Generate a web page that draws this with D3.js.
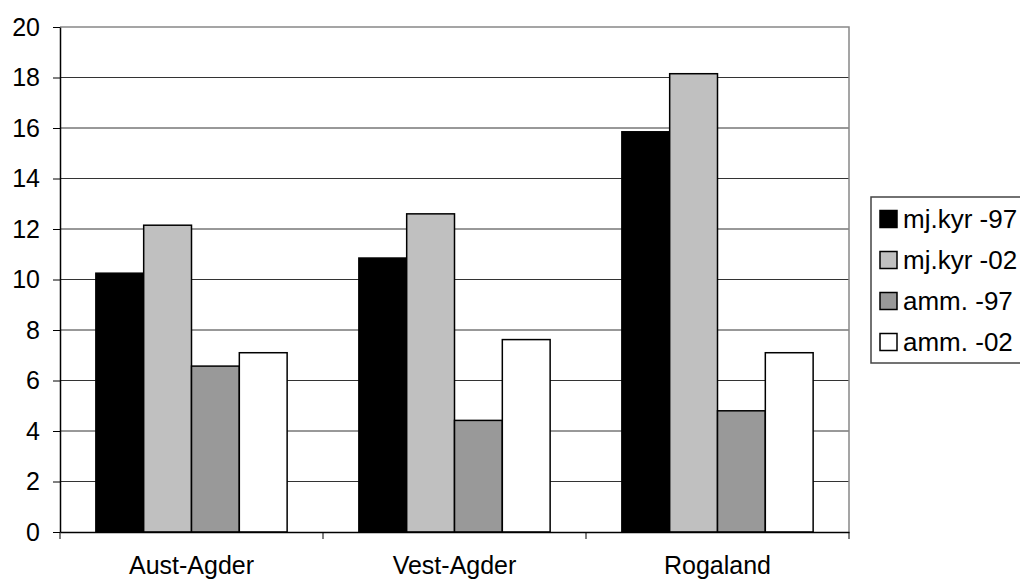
<!DOCTYPE html>
<html>
<head>
<meta charset="utf-8">
<script src="https://cdn.jsdelivr.net/npm/d3@7"></script>
<style>
  body { margin: 0; background: #fff; }
  text { font-family: Arial, "Liberation Sans", sans-serif; }
</style>
</head>
<body>
<div id="viz"></div>
<script>
const categories = ["Aust-Agder", "Vest-Agder", "Rogaland"];
const seriesNames = ["mj.kyr -97", "mj.kyr -02", "amm. -97", "amm. -02"];
const seriesColors = ["#000000", "#c0c0c0", "#999999", "#ffffff"];
const mjkyr97 = [10.25, 10.85, 15.85];
const mjkyr02 = [12.15, 12.6, 18.15];
const amm97 = [6.57, 4.42, 4.8];
const amm02 = [7.1, 7.62, 7.1];
const yTicks = [0, 2, 4, 6, 8, 10, 12, 14, 16, 18, 20];

const seriesValues = [mjkyr97, mjkyr02, amm97, amm02];

const margin = { top: 27, right: 171, bottom: 48, left: 60 };
const width = 1020 - margin.left - margin.right;
const height = 580 - margin.top - margin.bottom;

const svg = d3.select("#viz").append("svg")
  .attr("width", 1020)
  .attr("height", 580)
  .append("g")
  .attr("transform", `translate(${margin.left},${margin.top})`);

const x0 = d3.scaleBand().domain(categories).range([0, width]);
// Excel-style gap width of 150% between groups
const barW = x0.bandwidth() / (seriesNames.length + 1.5);
const x1 = d3.scaleBand().domain(seriesNames).range([0, barW * seriesNames.length]);
const groupOffset = (x0.bandwidth() - barW * seriesNames.length) / 2;

const y = d3.scaleLinear().domain([0, 20]).range([height, 0]);

// gridlines
svg.append("g")
  .selectAll("line")
  .data(yTicks.filter(d => d > 0 && d < 20))
  .enter()
  .append("line")
  .attr("x1", 0)
  .attr("x2", width)
  .attr("y1", d => y(d))
  .attr("y2", d => y(d))
  .attr("stroke", "#333")
  .attr("stroke-width", 1);

// plot border (top + right)
svg.append("path")
  .attr("d", `M0,${y(20)}H${width}V${height}`)
  .attr("fill", "none")
  .attr("stroke", "#888")
  .attr("stroke-width", 1.5);

// bars
const rows = [];
seriesNames.forEach((s, i) => {
  categories.forEach((c, j) => {
    rows.push({ series: s, cat: c, value: seriesValues[i][j], color: seriesColors[i] });
  });
});

svg.selectAll("rect.bar")
  .data(rows)
  .enter()
  .append("rect")
  .attr("class", "bar")
  .attr("x", d => x0(d.cat) + groupOffset + x1(d.series))
  .attr("y", d => y(d.value))
  .attr("width", x1.bandwidth())
  .attr("height", d => height - y(d.value))
  .attr("fill", d => d.color)
  .attr("stroke", "#000")
  .attr("stroke-width", 1.5);

// y axis
const yAxis = svg.append("g")
  .call(d3.axisLeft(y).tickValues(yTicks).tickSize(7).tickPadding(13).tickSizeOuter(0));
yAxis.selectAll("text").style("font-size", "25px").attr("fill", "#000");
yAxis.selectAll("line").attr("stroke", "#000");
yAxis.select(".domain").attr("stroke", "#000").attr("stroke-width", 1.5);

// x axis
const xAxis = svg.append("g")
  .attr("transform", `translate(0,${height})`)
  .call(d3.axisBottom(x0).tickSize(0).tickPadding(24).tickSizeOuter(0));
xAxis.selectAll("text").style("font-size", "25px").attr("fill", "#000");
xAxis.select(".domain").attr("stroke", "#000").attr("stroke-width", 1.5);

const bounds = categories.map(c => x0(c)).concat([width]);
xAxis.selectAll("line.bound")
  .data(bounds)
  .enter()
  .append("line")
  .attr("class", "bound")
  .attr("x1", d => d)
  .attr("x2", d => d)
  .attr("y1", 0)
  .attr("y2", 7)
  .attr("stroke", "#000");

// legend
const legend = d3.select("svg").append("g")
  .attr("transform", "translate(871,197)");

legend.append("rect")
  .attr("x", 0)
  .attr("y", 0)
  .attr("width", 170)
  .attr("height", 166)
  .attr("fill", "#fff")
  .attr("stroke", "#444")
  .attr("stroke-width", 1.5);

const item = legend.selectAll("g.item")
  .data(seriesNames)
  .enter()
  .append("g")
  .attr("class", "item")
  .attr("transform", (d, i) => `translate(9,${22 + i * 41})`);

item.append("rect")
  .attr("x", 0)
  .attr("y", -8.5)
  .attr("width", 17)
  .attr("height", 17)
  .attr("fill", (d, i) => seriesColors[i])
  .attr("stroke", "#000")
  .attr("stroke-width", 1.5);

item.append("text")
  .attr("x", 23)
  .attr("y", 0)
  .attr("dy", "0.36em")
  .style("font-size", "26px")
  .text(d => d);
</script>
</body>
</html>
